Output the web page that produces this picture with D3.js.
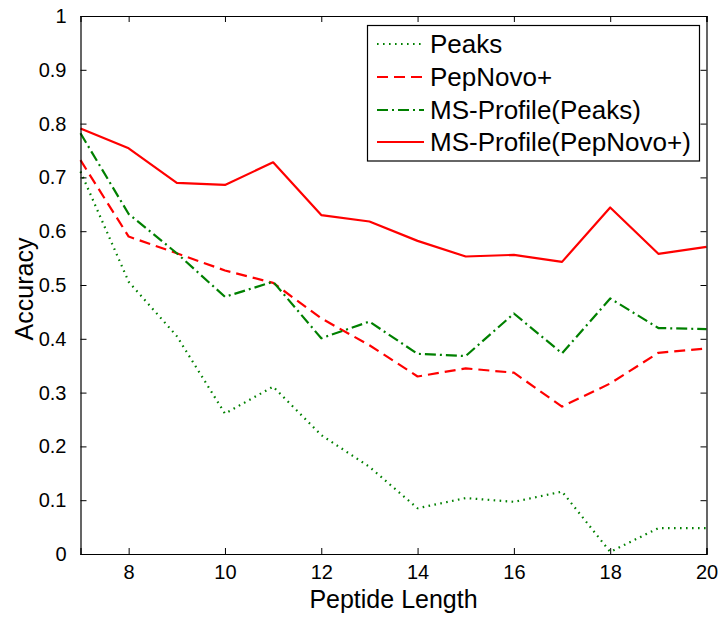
<!DOCTYPE html>
<html>
<head>
<meta charset="utf-8">
<script src="https://cdn.jsdelivr.net/npm/d3@7"></script>
<style>
  body { margin: 0; background: #fff; }
  text { font-family: "Liberation Sans", Arial, sans-serif; fill: #000; }
</style>
</head>
<body>
<svg id="chart" width="723" height="619"></svg>
<script>
const peptideLength = [7, 8, 9, 10, 11, 12, 13, 14, 15, 16, 17, 18, 19, 20];
const peaks          = [0.711, 0.506, 0.405, 0.261, 0.311, 0.221, 0.162, 0.085, 0.104, 0.097, 0.116, 0.004, 0.048, 0.048];
const pepNovo        = [0.732, 0.590, 0.559, 0.527, 0.504, 0.438, 0.388, 0.330, 0.345, 0.337, 0.274, 0.317, 0.374, 0.382];
const msProfilePeaks = [0.782, 0.632, 0.559, 0.478, 0.506, 0.401, 0.432, 0.372, 0.368, 0.447, 0.373, 0.475, 0.420, 0.418];
const msProfilePep   = [0.791, 0.754, 0.690, 0.686, 0.728, 0.630, 0.618, 0.582, 0.553, 0.556, 0.543, 0.644, 0.558, 0.571];
const seriesNames = ["Peaks", "PepNovo+", "MS-Profile(Peaks)", "MS-Profile(PepNovo+)"];
const xTicks = [8, 10, 12, 14, 16, 18, 20];
const yTicks = [0, 0.1, 0.2, 0.3, 0.4, 0.5, 0.6, 0.7, 0.8, 0.9, 1];

const styles = [
  { color: "#008000", dash: "1.6,4.4", width: 2.2 },
  { color: "#ff0000", dash: "11,6", width: 2.2 },
  { color: "#008000", dash: "11,4,2,4", width: 2.2 },
  { color: "#ff0000", dash: null, width: 2.2 }
];
const seriesData = [peaks, pepNovo, msProfilePeaks, msProfilePep];

const svg = d3.select("#chart");
const L = 80.5, R = 706.5, T = 16, B = 554;
const x = d3.scaleLinear().domain([7, 20]).range([L, R]);
const y = d3.scaleLinear().domain([0, 1]).range([B, T]);

// lines
const line = d3.line().x((d, i) => x(peptideLength[i])).y(d => y(d));
seriesData.forEach((s, k) => {
  svg.append("path")
    .datum(s)
    .attr("d", line)
    .attr("fill", "none")
    .attr("stroke", styles[k].color)
    .attr("stroke-width", styles[k].width)
    .attr("stroke-dasharray", styles[k].dash)
    .attr("stroke-linejoin", "round");
});

// axes (inward ticks on all sides)
const tl = 6;
const fmt = d => d3.format("~g")(d);
const axB = d3.axisBottom(x).tickValues(xTicks).tickSize(-tl).tickPadding(11).tickFormat(fmt);
const axT = d3.axisTop(x).tickValues(xTicks).tickSize(-tl).tickFormat("");
const axLft = d3.axisLeft(y).tickValues(yTicks).tickSize(-tl).tickPadding(14).tickFormat(fmt);
const axRgt = d3.axisRight(y).tickValues(yTicks).tickSize(-tl).tickFormat("");

function style(g) {
  g.selectAll("path.domain").attr("stroke", "#000").attr("stroke-width", 1.2);
  g.selectAll(".tick line").attr("stroke", "#000").attr("stroke-width", 1);
  g.selectAll(".tick text").style("font-family", '"Liberation Sans", Arial, sans-serif').style("font-size", "20px").attr("fill", "#000");
}
svg.append("g").attr("transform", `translate(0,${B})`).call(axB).call(style);
svg.append("g").attr("transform", `translate(0,${T})`).call(axT).call(style);
svg.append("g").attr("transform", `translate(${L},0)`).call(axLft).call(style);
svg.append("g").attr("transform", `translate(${R},0)`).call(axRgt).call(style);

// axis labels
svg.append("text").attr("x", (L + R) / 2).attr("y", 608)
  .attr("text-anchor", "middle").style("font-size", "25px").text("Peptide Length");
svg.append("text").attr("transform", `translate(33,${(T + B) / 2 + 4}) rotate(-90)`)
  .attr("text-anchor", "middle").style("font-size", "25px").text("Accuracy");

// legend
const lg = svg.append("g");
lg.append("rect").attr("x", 367.5).attr("y", 25.5).attr("width", 332).attr("height", 135.5)
  .attr("fill", "#fff").attr("stroke", "#000").attr("stroke-width", 1.2);
const rowY = [44, 77, 110, 142];
seriesNames.forEach((name, k) => {
  lg.append("line").attr("x1", 377).attr("x2", 424).attr("y1", rowY[k]).attr("y2", rowY[k])
    .attr("stroke", styles[k].color).attr("stroke-width", styles[k].width)
    .attr("stroke-dasharray", styles[k].dash);
  lg.append("text").attr("x", 430).attr("y", rowY[k] + 9).style("font-size", "26px").text(name);
});
</script>
</body>
</html>
